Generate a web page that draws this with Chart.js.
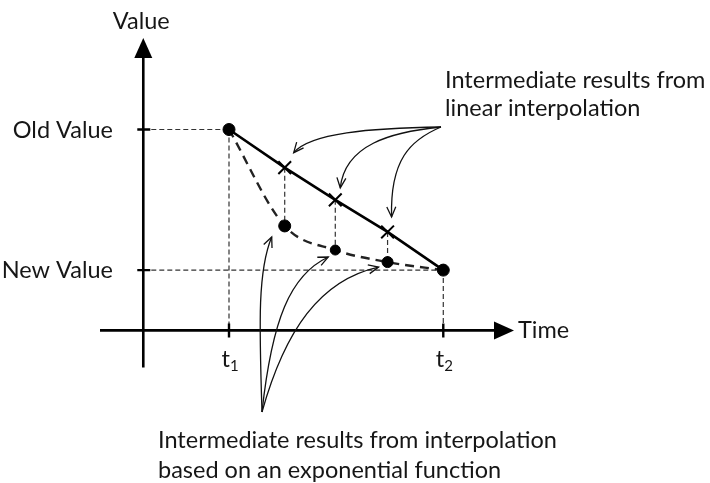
<!DOCTYPE html>
<html>
<head>
<meta charset="utf-8">
<script src="https://cdn.jsdelivr.net/npm/chart.js@4.4.0/dist/chart.umd.min.js"></script>
<style>
  html, body { margin: 0; padding: 0; background: #fff; }
  #wrap { width: 710px; height: 483px; }
</style>
</head>
<body>
<div id="wrap"><canvas id="myChart" width="710" height="483"></canvas></div>
<script>
// time steps between t1 and t2
var times = [1, 1.65, 2.24, 2.85, 3.5];
// straight line from old to new value
var linearValues = [100, 81, 65, 49, 30];
// values following the exponential curve
var expValues = [100, 52, 40, 34, 30];

var timeTicks = [1, 3.5];
var timeTickLabels = ['1', '2'];
var valueTicks = [100, 30];
var valueTickLabels = ['Old Value', 'New Value'];

var linearNote = ['Intermediate results from', 'linear interpolation'];
var expNote = ['Intermediate results from interpolation', 'based on an exponential function'];

var ink = '#161616';
var font = '23.5px Lato';

function pts(vals) {
  return times.map(function(t, i) { return {x: t, y: vals[i]}; });
}

function arrowHead(ctx, x, y, fromX, fromY) {
  var a = Math.atan2(y - fromY, x - fromX);
  var len = 11, spread = 0.42;
  ctx.beginPath();
  ctx.moveTo(x - len * Math.cos(a - spread), y - len * Math.sin(a - spread));
  ctx.lineTo(x, y);
  ctx.lineTo(x - len * Math.cos(a + spread), y - len * Math.sin(a + spread));
  ctx.stroke();
}

function curveArrow(ctx, p0, c1, c2, p1) {
  ctx.beginPath();
  ctx.moveTo(p0[0], p0[1]);
  ctx.bezierCurveTo(c1[0], c1[1], c2[0], c2[1], p1[0], p1[1]);
  ctx.stroke();
  arrowHead(ctx, p1[0], p1[1], c2[0], c2[1]);
}

var diagram = {
  id: 'diagram',
  beforeDatasetsDraw: function(chart) {
    var ctx = chart.ctx, xs = chart.scales.x, ys = chart.scales.y;
    var ax = xs.getPixelForValue(0), ay = ys.getPixelForValue(0);
    var n = times.length;
    ctx.save();

    // thin dashed guides
    ctx.strokeStyle = '#333';
    ctx.lineWidth = 1.2;
    ctx.setLineDash([5, 3]);
    ctx.beginPath();
    var x0 = xs.getPixelForValue(times[0]), y0 = ys.getPixelForValue(linearValues[0]);
    var xn = xs.getPixelForValue(times[n - 1]), yn = ys.getPixelForValue(linearValues[n - 1]);
    ctx.moveTo(ax, y0); ctx.lineTo(x0, y0);
    ctx.moveTo(ax, yn); ctx.lineTo(xn, yn);
    ctx.moveTo(x0, y0); ctx.lineTo(x0, ay);
    ctx.moveTo(xn, yn); ctx.lineTo(xn, ay);
    for (var i = 1; i < n - 1; i++) {
      var px = xs.getPixelForValue(times[i]);
      ctx.moveTo(px, ys.getPixelForValue(linearValues[i]));
      ctx.lineTo(px, ys.getPixelForValue(expValues[i]));
    }
    ctx.stroke();
    ctx.setLineDash([]);

    // axes with arrow heads
    ctx.strokeStyle = '#000';
    ctx.fillStyle = '#000';
    ctx.lineWidth = 2.6;
    ctx.beginPath();
    ctx.moveTo(ax, ay + 37); ctx.lineTo(ax, 56);
    ctx.moveTo(100, ay); ctx.lineTo(496, ay);
    ctx.stroke();
    ctx.beginPath();
    ctx.moveTo(ax, 38); ctx.lineTo(ax - 9, 58); ctx.lineTo(ax + 9, 58); ctx.closePath();
    ctx.fill();
    ctx.beginPath();
    ctx.moveTo(514, ay); ctx.lineTo(494, ay - 9); ctx.lineTo(494, ay + 9); ctx.closePath();
    ctx.fill();

    // tick marks
    ctx.lineWidth = 2.4;
    ctx.beginPath();
    valueTicks.forEach(function(v) {
      var py = ys.getPixelForValue(v);
      ctx.moveTo(ax - 6, py); ctx.lineTo(ax + 7, py);
    });
    timeTicks.forEach(function(t) {
      var px = xs.getPixelForValue(t);
      ctx.moveTo(px, ay - 7); ctx.lineTo(px, ay + 7);
    });
    ctx.stroke();

    // axis labels
    ctx.fillStyle = ink;
    ctx.font = font;
    ctx.textBaseline = 'alphabetic';
    ctx.textAlign = 'center';
    ctx.fillText('Value', ax - 2, 29);
    ctx.textAlign = 'left';
    ctx.fillText('Time', 518, ay + 8);
    ctx.textAlign = 'right';
    valueTicks.forEach(function(v, k) {
      ctx.fillText(valueTickLabels[k], 113, ys.getPixelForValue(v) + 8);
    });
    timeTicks.forEach(function(t, k) {
      var px = xs.getPixelForValue(t);
      ctx.textAlign = 'right';
      ctx.font = font;
      ctx.fillText('t', px + 1, 367);
      ctx.textAlign = 'left';
      ctx.font = '15px Lato';
      ctx.fillText(timeTickLabels[k], px + 1, 371);
    });
    ctx.restore();
  },
  afterDatasetsDraw: function(chart) {
    var ctx = chart.ctx, xs = chart.scales.x, ys = chart.scales.y;
    function at(i, vals, dx, dy) {
      return [xs.getPixelForValue(times[i]) + dx, ys.getPixelForValue(vals[i]) + dy];
    }
    ctx.save();
    ctx.strokeStyle = '#111';
    ctx.lineWidth = 1.3;

    // pointers to the crosses on the straight line
    var top = [441, 127];
    curveArrow(ctx, top, [370, 128], [310, 133], at(1, linearValues, 9, -15));
    curveArrow(ctx, top, [390, 132], [345, 145], at(2, linearValues, 5, -12));
    curveArrow(ctx, top, [410, 140], [390, 160], at(3, linearValues, 4, -15));

    // pointers to the dots on the curve
    var bottom = [262, 412];
    curveArrow(ctx, bottom, [259, 320], [258, 270], at(1, expValues, -13, 11));
    curveArrow(ctx, bottom, [272, 320], [290, 275], at(2, expValues, -7, 7));
    curveArrow(ctx, bottom, [285, 330], [320, 280], at(3, expValues, -9, 5));

    ctx.fillStyle = ink;
    ctx.font = font;
    ctx.textAlign = 'left';
    ctx.textBaseline = 'alphabetic';
    ctx.fillText(linearNote[0], 445, 88);
    ctx.fillText(linearNote[1], 445, 116);
    ctx.fillText(expNote[0], 158, 448);
    ctx.fillText(expNote[1], 158, 478);
    ctx.restore();
  }
};

var ctx = document.getElementById('myChart').getContext('2d');
var myChart = new Chart(ctx, {
  type: 'line',
  data: {
    datasets: [{
      label: 'Linear',
      data: pts(linearValues),
      borderColor: '#000',
      borderWidth: 2.6,
      tension: 0,
      pointStyle: ['circle', 'crossRot', 'crossRot', 'crossRot', 'circle'],
      pointRadius: [6, 9, 9, 9, 6],
      pointBorderWidth: [1, 2, 2, 2, 1],
      pointBackgroundColor: '#000',
      pointBorderColor: '#000'
    }, {
      label: 'Exponential',
      data: pts(expValues),
      borderColor: '#222',
      borderWidth: 2.4,
      borderDash: [9, 6],
      cubicInterpolationMode: 'monotone',
      pointRadius: [0, 6, 5, 5.5, 0],
      pointBackgroundColor: '#000',
      pointBorderColor: '#000',
      pointBorderWidth: 1
    }]
  },
  options: {
    responsive: false,
    animation: false,
    devicePixelRatio: 1,
    layout: { padding: 0 },
    plugins: { legend: { display: false }, tooltip: { enabled: false } },
    scales: {
      x: { type: 'linear', display: false, min: -1.59, max: 6.53 },
      y: { type: 'linear', display: false, min: -72.5, max: 161 }
    }
  },
  plugins: [diagram]
});
</script>
</body>
</html>
